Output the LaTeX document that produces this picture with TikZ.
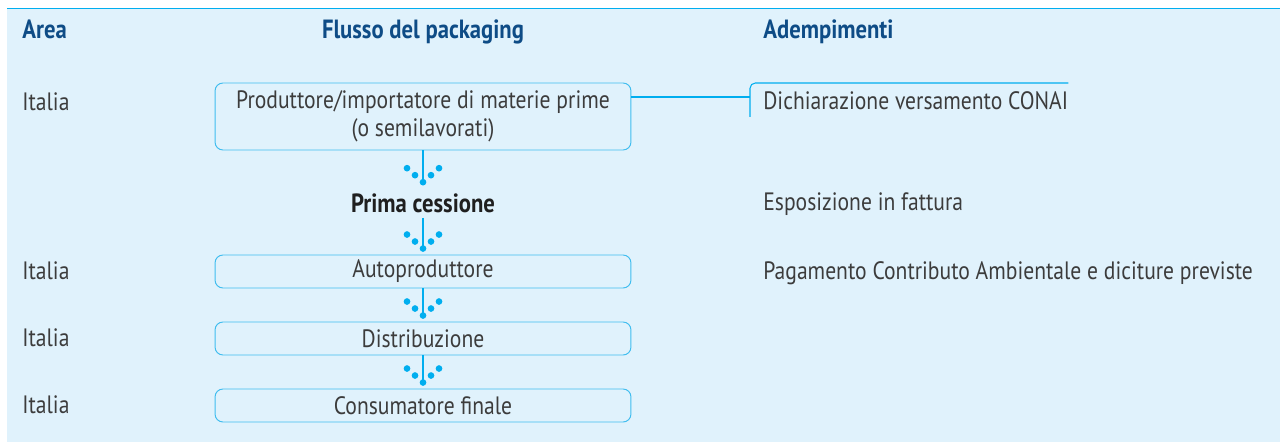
\documentclass[tikz,border=0pt]{standalone}
\usepackage{fontspec}
\setmainfont{PT Sans}[FakeStretch=0.86]
\usetikzlibrary{positioning}

\definecolor{panelblue}{HTML}{E0F2FC}
\definecolor{linkcyan}{HTML}{00AEEF}
\definecolor{boxcyan}{HTML}{3FBDEF}
\definecolor{headblue}{HTML}{0E4C86}
\definecolor{textgray}{HTML}{3C3C3C}

\newcommand{\flowsize}{\fontsize{14.3}{16}\selectfont}
\newcommand{\headsize}{\fontsize{15}{17}\selectfont}

\tikzset{
    head/.style={font=\headsize\bfseries, text=headblue, anchor=base west, inner sep=0pt},
    area/.style={font=\flowsize, text=textgray, anchor=base west, inner sep=0pt},
    note/.style={font=\flowsize, text=textgray, anchor=base west, inner sep=0pt},
    flowbox/.style={draw=boxcyan, line width=0.55pt, rounded corners=4.5pt,
        minimum width=8.32cm, minimum height=0.66cm, text=textgray,
        font=\flowsize, align=center, inner sep=0pt},
    link/.style={draw=linkcyan, line width=0.6pt},
}

% line with the v of dots, from one node down to the next
\newcommand{\dotlink}[2]{%
    \draw[link] (#1.south) -- ([yshift=0.12cm]#2.north) coordinate (tip);
    \foreach \dx/\dy in {-16/-14, -8/-7, 0/0, 8/-7, 16/-14}
        \fill[linkcyan] ([shift={(\dx,\dy)}]tip) circle[radius=1.9pt];
}

\begin{document}
\begin{tikzpicture}[x=0.02cm,y=-0.02cm]
    \useasboundingbox (0,0) rectangle (1280,442);

    % panel
    \fill[panelblue] (7,9) rectangle (1280,442);
    \draw[linkcyan, line width=1.1pt] (7,8.5) -- (1280,8.5);

    % headings
    \node[head] (harea) at (22,39) {Area};
    \node[head, anchor=base] (hflow) at (423,39) {Flusso del packaging};
    \node[head] (hadem) at (763,39) {Adempimenti};

    % flow
    \node[flowbox, minimum height=1.34cm] (prod) at (423,116.5)
        {Produttore/importatore di materie prime\\(o semilavorati)};
    \node[font=\fontsize{15}{17}\selectfont\bfseries, text=black!88, inner sep=0pt, outer sep=3pt] (cess) at (423,203) {Prima cessione};
    \node[flowbox] (auto) at (423,271.5) {Autoproduttore};
    \node[flowbox] (dist) at (423,338.5) {Distribuzione};
    \node[flowbox] (cons) at (423,405.5) {Consumatore finale};

    \dotlink{prod}{cess}
    \dotlink{cess}{auto}
    \dotlink{auto}{dist}
    \dotlink{dist}{cons}

    % area column
    \foreach \y/\nm in {111/ita1, 279/ita2, 346/ita3, 413/ita4}
        \node[area] (\nm) at (22,\y) {Italia};

    % adempimenti
    \node[note] (decl) at (763,110) {Dichiarazione versamento CONAI};
    \node[note] (espo) at (763,211) {Esposizione in fattura};
    \node[note] (paga) at (763,279) {Pagamento Contributo Ambientale e diciture previste};

    \coordinate (brk) at (750,97);
    \draw[link] (prod.east |- brk) -- (brk);
    \draw[link, rounded corners=3pt] (750,117) |- (decl.east |- 0,83);
\end{tikzpicture}
\end{document}
